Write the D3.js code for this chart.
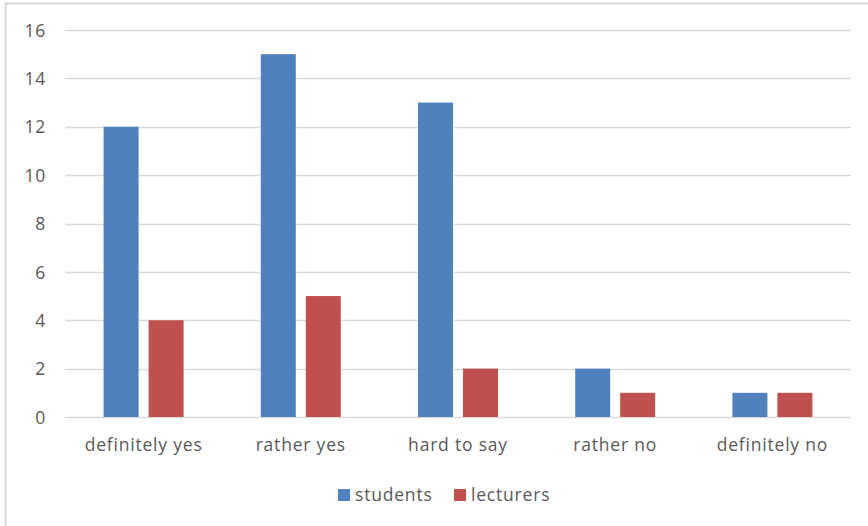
<!DOCTYPE html>
<html>
<head>
<meta charset="utf-8">
<script src="https://cdn.jsdelivr.net/npm/d3@7"></script>
<style>
	body { margin: 0; background: #fff; }
	svg text { font-family: "Open Sans", "Liberation Sans", sans-serif; fill: #595959; letter-spacing: 0.8px; }
</style>
</head>
<body>
<svg id="chart" width="868" height="526"></svg>
<script>
const categories = ['definitely yes', 'rather yes', 'hard to say', 'rather no', 'definitely no'];
const seriesNames = ['students', 'lecturers'];
const students = [12, 15, 13, 2, 1];
const lecturers = [4, 5, 2, 1, 1];
const yTicks = [0, 2, 4, 6, 8, 10, 12, 14, 16];
const colors = ['#4f81bd', '#c0504d'];

const svg = d3.select('#chart');
const W = 868;
const H = 526;
const fontSize = 17.5;
const plot = { left: 65, right: 851, top: 30, bottom: 417 };

// chart frame (only top and left edges fall inside the picture)
svg.append('rect')
	.attr('x', 5.5).attr('y', 3.5)
	.attr('width', W + 20).attr('height', H + 20)
	.attr('fill', 'none').attr('stroke', '#d9d9d9').attr('stroke-width', 2);

const x = d3.scaleBand().domain(categories).range([plot.left, plot.right]);
const y = d3.scaleLinear().domain([0, 16]).range([plot.bottom, plot.top]);

// gridlines
svg.append('g').selectAll('line').data(yTicks).enter().append('line')
	.attr('x1', plot.left).attr('x2', plot.right)
	.attr('y1', d => Math.round(y(d)) + 0.5).attr('y2', d => Math.round(y(d)) + 0.5)
	.attr('stroke', '#d9d9d9').attr('stroke-width', 1.5);

// y labels
const yAxis = d3.axisLeft(y).tickValues(yTicks).tickSize(0).tickPadding(0);
const gy = svg.append('g').attr('transform', `translate(46,0)`).call(yAxis);
gy.select('.domain').remove();
gy.attr('font-family', null).attr('font-size', fontSize);
gy.selectAll('text').attr('dy', '0.35em');

// bars
const barW = 35;
const gap = 10;
const series = [students, lecturers];
series.forEach((vals, s) => {
	svg.append('g').selectAll('rect').data(vals).enter().append('rect')
		.attr('x', (d, i) => x(categories[i]) + x.bandwidth() / 2 - barW - gap / 2 + s * (barW + gap))
		.attr('y', d => y(d))
		.attr('width', barW)
		.attr('height', d => y(0) - y(d))
		.attr('fill', colors[s]);
});

// x labels
const xAxis = d3.axisBottom(x).tickSize(0).tickPadding(0);
const gx = svg.append('g').attr('transform', `translate(0,${plot.bottom})`).call(xAxis);
gx.select('.domain').remove();
gx.attr('font-family', null).attr('font-size', fontSize);
gx.selectAll('text').attr('y', 28).attr('dy', '0.35em');

// legend
const legend = [
	{ name: seriesNames[0], color: colors[0], x: 338 },
	{ name: seriesNames[1], color: colors[1], x: 454 },
];
const gLeg = svg.append('g');
legend.forEach((l) => {
	gLeg.append('rect').attr('x', l.x).attr('y', 489).attr('width', 12).attr('height', 12).attr('fill', l.color);
	gLeg.append('text').attr('x', l.x + 17).attr('y', 495).attr('dy', '0.35em')
		.attr('font-size', fontSize).text(l.name);
});
</script>
</body>
</html>
